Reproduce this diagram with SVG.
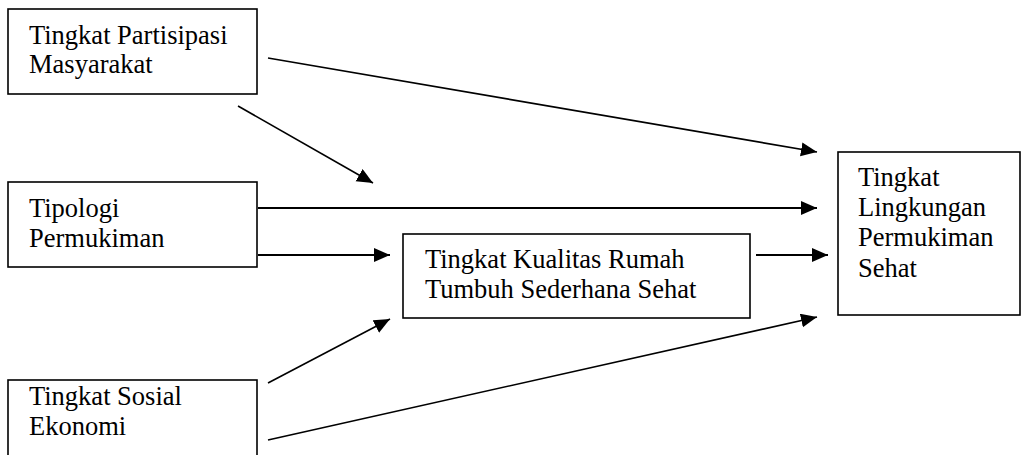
<svg xmlns="http://www.w3.org/2000/svg" width="1024" height="455" viewBox="0 0 1024 455">
<style>
.box{fill:#fff;stroke:#000;stroke-width:1.6}
.t{font-family:"Liberation Serif","Times New Roman",serif;font-size:26.5px;fill:#000}
.c{stroke:#000;stroke-width:1.6;fill:none;marker-end:url(#ah)}
.h{stroke-width:2}
</style>
<defs>
<marker id="ah" markerUnits="userSpaceOnUse" markerWidth="17" markerHeight="15" refX="16" refY="7" orient="auto">
<path d="M0,0 L16,7 L0,14 Z" fill="#000"/>
</marker>
</defs>
<rect width="1024" height="455" fill="#fff"/>
<g id="connectors">
<line class="c" x1="268" y1="58" x2="817" y2="152"/>
<line class="c" x1="238" y1="106" x2="373" y2="183"/>
<line class="c h" x1="258" y1="208" x2="817" y2="208"/>
<line class="c h" x1="258" y1="255" x2="390" y2="255"/>
<line class="c h" x1="756" y1="255" x2="828" y2="255"/>
<line class="c" x1="268" y1="383" x2="390" y2="319"/>
<line class="c" x1="268" y1="440" x2="817" y2="317"/>
</g>
<g id="partisipasi">
<rect class="box" x="8" y="9" width="249" height="85"/>
<text class="t" x="29" y="44">Tingkat Partisipasi</text>
<text class="t" x="29" y="73">Masyarakat</text>
</g>
<g id="tipologi">
<rect class="box" x="8" y="182" width="249" height="85"/>
<text class="t" x="29" y="217">Tipologi</text>
<text class="t" x="29" y="247">Permukiman</text>
</g>
<g id="sosial">
<rect class="box" x="8" y="380" width="249" height="90"/>
<text class="t" x="29" y="405">Tingkat Sosial</text>
<text class="t" x="29" y="435">Ekonomi</text>
</g>
<g id="kualitas">
<rect class="box" x="403" y="234" width="347" height="84"/>
<text class="t" x="425" y="268">Tingkat Kualitas Rumah</text>
<text class="t" x="425" y="298">Tumbuh Sederhana Sehat</text>
</g>
<g id="lingkungan">
<rect class="box" x="838" y="152" width="182" height="163"/>
<text class="t" x="858" y="186">Tingkat</text>
<text class="t" x="858" y="216">Lingkungan</text>
<text class="t" x="858" y="246">Permukiman</text>
<text class="t" x="858" y="277">Sehat</text>
</g>
</svg>
